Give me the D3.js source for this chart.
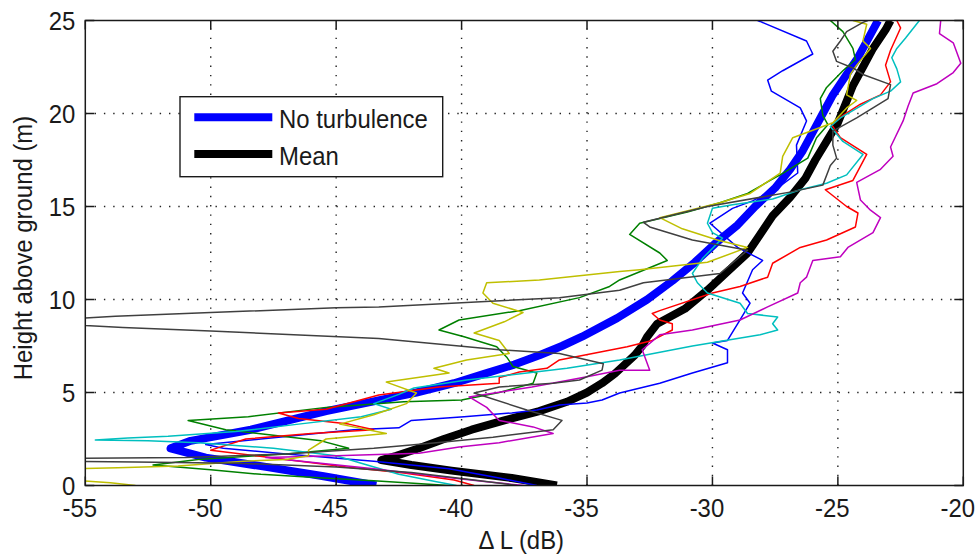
<!DOCTYPE html>
<html>
<head>
<meta charset="utf-8">
<script src="https://cdn.jsdelivr.net/npm/d3@7"></script>
<style>
  html, body { margin: 0; padding: 0; background: #fff; }
  svg { display: block; }
  text { font-family: "Liberation Sans", Arial, Helvetica, sans-serif; fill: #1a1a1a; }
</style>
</head>
<body>
<svg id="chart" width="976" height="554"></svg>
<script>
// Axis ticks
const xTicks = [-55, -50, -45, -40, -35, -30, -25, -20];
const yTicks = [0, 5, 10, 15, 20, 25];

// Reference profile without turbulence: height (m) and level difference (dB)
const noTurbHeight = [0, 0.5, 1.0, 1.5, 2.0, 2.4, 3.0, 3.5, 4.0, 4.5, 5.0, 5.5, 6.0, 6.5, 7.0, 7.5, 8.0, 9.0, 10, 11, 12, 13, 14, 15, 16, 17, 18, 19, 20, 21, 22, 23, 24, 25];
const noTurbDB = [-43.4, -45.5, -47.8, -50.2, -51.6, -50.8, -48.4, -46.9, -45.4, -43.6, -41.8, -40.3, -39.1, -37.9, -36.9, -36.0, -35.2, -33.8, -32.6, -31.6, -30.7, -29.9, -29.0, -28.3, -27.5, -26.9, -26.4, -26.0, -25.6, -25.2, -24.7, -24.2, -23.8, -23.4];

// Mean over the turbulent realisations
const meanHeight = [0, 0.4, 0.8, 1.1, 1.37, 1.6, 2.0, 2.5, 3.0, 3.5, 4.0, 4.5, 5.0, 5.5, 6.0, 6.5, 7.0, 7.5, 8.0, 8.7, 9.5, 10.5, 11.5, 12.5, 13.5, 14.5, 15.5, 16.5, 17.5, 18.5, 19.5, 20.5, 21.5, 22.5, 23.5, 24.5, 25];
const meanDB = [-36.2, -38.0, -40.4, -42.0, -43.2, -42.6, -41.7, -40.7, -39.6, -38.3, -36.9, -35.8, -35.0, -34.4, -33.9, -33.5, -33.1, -32.8, -32.6, -32.2, -31.1, -30.2, -29.4, -28.6, -28.1, -27.6, -26.9, -26.3, -25.9, -25.45, -25.0, -24.7, -24.4, -24.0, -23.6, -23.1, -22.9];

// Individual realisations, [dB, height] pairs
const runBlue = [[-37.0,0],[-38.5,0.4],[-40.5,0.9],[-43.5,1.3],[-47.0,1.7],[-49.5,2.0],[-50.2,2.2],[-48.0,2.5],[-44.3,3.0],[-42.5,3.1],[-42.0,3.5],[-39.9,3.7],[-38.0,3.9],[-37.0,4.06],[-36.1,4.33],[-35.0,4.43],[-34.4,4.6],[-33.7,4.97],[-32.1,5.5],[-30.8,6.05],[-29.4,6.6],[-29.4,7.3],[-30.0,7.66],[-29.4,7.8],[-28.9,8.9],[-28.5,9.8],[-28.8,10.35],[-28.4,11.6],[-28.0,12.1],[-29.0,12.8],[-30.1,14.1],[-29.2,14.9],[-28.4,15.3],[-27.4,16.0],[-26.6,16.8],[-26.65,18.3],[-26.25,19.6],[-26.5,20.3],[-27.65,21.2],[-27.8,21.8],[-27.2,22.3],[-26.0,23.2],[-26.25,23.9],[-28.1,24.95],[-28.2,25]];
const runGreen = [[-40.5,0],[-43.5,0.25],[-45.5,0.4],[-48.0,0.6],[-50.0,0.85],[-52.3,1.1],[-50.5,1.4],[-47.0,1.7],[-44.5,2.0],[-45.6,2.4],[-47.5,2.7],[-49.4,3.0],[-50.9,3.5],[-48.5,3.7],[-45.4,4.2],[-42.3,4.5],[-40.0,4.6],[-38.5,5.0],[-37.15,5.5],[-37.0,6.05],[-37.95,6.4],[-38.2,6.9],[-38.6,7.46],[-39.9,8.0],[-40.9,8.36],[-40.1,8.9],[-37.7,9.4],[-35.3,10.1],[-34.1,10.7],[-33.7,11.05],[-31.8,12.1],[-32.1,12.5],[-33.3,13.5],[-32.9,14.1],[-31.0,14.7],[-29.7,15.2],[-28.6,15.7],[-27.7,16.4],[-27.3,16.7],[-26.2,17.6],[-25.85,18.7],[-25.4,19.4],[-25.6,19.9],[-25.7,20.8],[-25.45,21.4],[-24.8,22.3],[-24.3,22.9],[-24.4,23.5],[-24.8,24.4],[-25.3,25]];
const runRed = [[-39.5,0],[-40.3,0.3],[-42.3,0.67],[-44.6,1.0],[-47.0,1.4],[-50.0,1.9],[-48.6,2.5],[-46.0,2.8],[-43.5,3.0],[-44.5,3.3],[-46.5,3.6],[-47.3,3.9],[-45.4,4.1],[-43.3,4.87],[-40.9,5.3],[-38.5,5.5],[-38.5,5.8],[-37.7,6.1],[-36.6,6.3],[-36.1,6.75],[-33.4,7.46],[-32.4,7.8],[-31.6,8.36],[-31.6,8.7],[-32.1,8.9],[-32.4,9.25],[-32.1,9.4],[-30.0,10.35],[-28.9,10.7],[-27.8,11.2],[-27.6,11.95],[-26.5,12.8],[-25.45,13.2],[-24.3,13.9],[-24.2,14.65],[-24.65,15.0],[-25.5,15.9],[-24.4,16.4],[-23.85,17.8],[-24.9,18.7],[-25.25,19.4],[-24.8,19.9],[-24.1,20.5],[-23.3,21.0],[-22.9,21.7],[-23.1,22.6],[-22.9,23.4],[-22.5,24.6],[-22.65,25]];
const runCyan = [[-40.2,0],[-41.0,0.2],[-42.5,0.6],[-44.0,1.2],[-45.0,1.6],[-47.5,2.0],[-50.5,2.3],[-52.5,2.4],[-54.6,2.45],[-53.3,2.55],[-51.7,2.65],[-49.0,2.9],[-46.5,3.3],[-44.0,3.7],[-42.8,4.1],[-43.5,4.4],[-42.5,4.9],[-41.9,5.24],[-39.8,5.67],[-35.8,6.3],[-33.7,6.75],[-30.8,7.5],[-28.1,8.1],[-27.4,8.36],[-27.6,8.7],[-27.4,9.06],[-28.6,9.25],[-28.9,9.8],[-30.2,10.35],[-30.6,10.9],[-30.8,11.4],[-30.4,12.2],[-29.6,13.3],[-30.0,13.6],[-30.2,14.1],[-30.0,14.9],[-29.2,15.1],[-27.6,15.4],[-26.5,15.9],[-25.45,16.25],[-24.65,16.7],[-24.0,17.8],[-24.8,18.5],[-25.3,19.3],[-24.9,19.76],[-24.1,20.4],[-23.6,20.8],[-22.9,21.2],[-22.5,21.7],[-22.65,22.4],[-22.85,23.0],[-22.65,23.5],[-22.3,24.06],[-21.75,25]];
const runMagenta = [[-37.5,0],[-39.0,0.2],[-41.0,0.5],[-43.5,0.9],[-46.0,1.25],[-47.8,1.5],[-45.0,1.6],[-41.7,1.74],[-40.1,2.07],[-38.5,2.3],[-36.35,2.8],[-37.15,3.15],[-38.5,3.5],[-39.0,4.2],[-39.7,4.76],[-37.2,5.3],[-35.0,5.85],[-33.7,6.2],[-32.5,6.2],[-32.8,7.3],[-32.1,8.1],[-30.8,8.36],[-28.9,8.9],[-27.8,9.6],[-26.6,10.35],[-26.5,10.9],[-26.25,11.2],[-26.0,12.1],[-24.9,12.3],[-24.6,12.8],[-23.6,13.6],[-23.3,14.4],[-23.7,14.8],[-24.1,15.35],[-24.25,16.3],[-23.3,17.0],[-22.8,17.7],[-22.9,18.2],[-22.4,19.6],[-22.2,20.4],[-22.0,21.1],[-21.05,21.6],[-20.4,22.2],[-20.1,22.7],[-20.4,23.8],[-20.95,24.3],[-20.9,25]];
const runYellow = [[-53.0,0],[-54.0,0.15],[-55.6,0.3],[-55.6,0.9],[-53.7,0.95],[-51.3,1.05],[-48.7,1.3],[-47.0,1.4],[-46.1,1.6],[-46.1,1.9],[-45.4,2.5],[-43.0,2.8],[-44.85,3.3],[-43.5,3.8],[-42.2,4.4],[-41.8,4.97],[-43.0,5.56],[-40.5,6.05],[-41.1,6.3],[-39.8,6.75],[-38.1,7.1],[-38.5,7.8],[-39.5,8.2],[-38.3,8.8],[-37.55,9.3],[-38.75,9.8],[-39.15,10.35],[-39.0,10.9],[-36.9,11.05],[-33.7,11.5],[-32.9,11.6],[-30.2,12.0],[-28.6,12.8],[-29.8,13.2],[-31.2,13.8],[-32.1,14.4],[-29.7,15.2],[-28.5,15.7],[-27.3,16.8],[-27.2,17.7],[-26.8,18.7],[-25.2,19.5],[-24.65,20.3],[-24.25,20.7],[-24.65,21.0],[-24.5,22.1],[-24.25,22.6],[-23.7,23.5],[-24.0,23.9],[-23.85,24.8],[-24.4,25]];
const runGray = [[-37.8,0],[-39.5,0.3],[-42.0,0.7],[-45.0,1.0],[-49.0,1.2],[-53.0,1.27],[-56.0,1.3],[-56.0,1.45],[-51.0,1.5],[-47.0,1.7],[-43.5,2.0],[-41.0,2.3],[-38.75,2.6],[-36.35,3.0],[-36.0,3.5],[-37.4,4.06],[-39.5,4.97],[-38.5,5.3],[-36.35,5.5],[-35.3,5.67],[-34.4,6.2],[-34.35,6.55],[-36.1,7.1],[-38.5,7.3],[-43.3,7.9],[-50.0,8.3],[-53.5,8.5],[-55.0,8.6],[-57.0,8.8],[-55.0,9.0],[-53.8,9.1],[-50.0,9.3],[-45.0,9.55],[-43.3,9.6],[-36.1,10.1],[-33.7,10.5],[-32.75,10.9],[-29.7,11.4],[-28.6,12.65],[-30.8,13.2],[-32.5,13.9],[-32.75,14.15],[-30.2,15.0],[-26.8,15.8],[-25.6,16.15],[-25.3,17.2],[-25.05,17.6],[-25.2,18.3],[-25.2,19.05],[-24.25,19.76],[-23.6,20.3],[-23.0,20.8],[-22.9,21.55],[-24.0,22.1],[-24.4,22.45],[-25.05,22.8],[-25.2,23.35],[-24.9,23.9],[-24.65,24.4],[-24.0,24.9],[-23.8,25]];

const runs = [
  { data: runBlue, color: "#0000ff" },
  { data: runGreen, color: "#008000" },
  { data: runRed, color: "#ff0000" },
  { data: runCyan, color: "#00bfbf" },
  { data: runMagenta, color: "#bf00bf" },
  { data: runYellow, color: "#bfbf00" },
  { data: runGray, color: "#404040" }
];

const legendLabels = ["No turbulence", "Mean"];

// Layout
const plot = { left: 85.3, right: 963.3, top: 20.5, bottom: 485.5 };
const svg = d3.select("#chart");

const x = d3.scaleLinear().domain([-55, -20]).range([plot.left, plot.right]);
const y = d3.scaleLinear().domain([0, 25]).range([plot.bottom, plot.top]);

// Slightly condensed label text, placed at (tx, ty)
const FONT = 26, SQUEEZE = 0.92;
function label(sel, tx, ty, anchor, extra) {
  return sel.append("text")
    .attr("transform", `translate(${tx},${ty}) ${extra || ""} scale(${SQUEEZE},1)`)
    .attr("text-anchor", anchor)
    .attr("font-size", FONT);
}

svg.append("defs").append("clipPath").attr("id", "plotClip")
  .append("rect")
  .attr("x", plot.left).attr("y", plot.top)
  .attr("width", plot.right - plot.left).attr("height", plot.bottom - plot.top);

// Dotted grid
const grid = svg.append("g").attr("stroke", "#222").attr("stroke-width", 1.4)
  .attr("stroke-dasharray", "1.4,7.9").attr("fill", "none");
grid.selectAll("line.gx").data(xTicks.slice(1, -1)).join("line")
  .attr("x1", d => x(d)).attr("x2", d => x(d))
  .attr("y1", plot.bottom).attr("y2", plot.top);
grid.selectAll("line.gy").data(yTicks.slice(1, -1)).join("line")
  .attr("y1", d => y(d)).attr("y2", d => y(d))
  .attr("x1", plot.left).attr("x2", plot.right);

const lines = svg.append("g").attr("clip-path", "url(#plotClip)");

const lineGen = d3.line().x(d => x(d[0])).y(d => y(d[1]));

// Thick profiles first
lines.append("path")
  .datum(noTurbDB.map((v, i) => [v, noTurbHeight[i]]))
  .attr("d", lineGen).attr("fill", "none").attr("stroke", "#0000ff")
  .attr("stroke-width", 8).attr("stroke-linejoin", "round");
lines.append("path")
  .datum(meanDB.map((v, i) => [v, meanHeight[i]]))
  .attr("d", lineGen).attr("fill", "none").attr("stroke", "#000")
  .attr("stroke-width", 8).attr("stroke-linejoin", "round");

// Individual realisations
lines.selectAll("path.run").data(runs).join("path")
  .attr("class", "run")
  .attr("d", d => lineGen(d.data))
  .attr("fill", "none").attr("stroke", d => d.color)
  .attr("stroke-width", 1.5).attr("stroke-linejoin", "round");

// Axes box with inward ticks on all sides
const tickLen = 9;
const axes = svg.append("g").attr("stroke", "#1a1a1a").attr("stroke-width", 1.5).attr("fill", "none");
axes.append("rect")
  .attr("x", plot.left).attr("y", plot.top)
  .attr("width", plot.right - plot.left).attr("height", plot.bottom - plot.top);
xTicks.forEach(t => {
  axes.append("line").attr("x1", x(t)).attr("x2", x(t)).attr("y1", plot.bottom).attr("y2", plot.bottom - tickLen);
  axes.append("line").attr("x1", x(t)).attr("x2", x(t)).attr("y1", plot.top).attr("y2", plot.top + tickLen);
});
yTicks.forEach(t => {
  axes.append("line").attr("y1", y(t)).attr("y2", y(t)).attr("x1", plot.left).attr("x2", plot.left + tickLen);
  axes.append("line").attr("y1", y(t)).attr("y2", y(t)).attr("x1", plot.right).attr("x2", plot.right - tickLen);
});

// Tick labels
const tickG = svg.append("g");
xTicks.forEach(t => label(tickG, x(t) - 5.5, 516.5, "middle").text(t));
yTicks.forEach(t => label(tickG, plot.left - 10, y(t) + 9.2, "end").text(t));

// Axis titles
label(svg, (plot.left + plot.right) / 2 - 3, 549, "middle").text("\u0394 L (dB)");
label(svg, 31.5, 248, "middle", "rotate(-90)").text("Height above ground (m)");

// Legend
const legend = svg.append("g");
legend.append("rect")
  .attr("x", 180).attr("y", 96.7).attr("width", 262.7).attr("height", 80)
  .attr("fill", "#fff").attr("stroke", "#1a1a1a").attr("stroke-width", 1.4);
const legendColors = ["#0000ff", "#000"];
legendLabels.forEach((lbl, i) => {
  const ly = 117.3 + i * 36.7;
  legend.append("line").attr("x1", 194.3).attr("x2", 272.3).attr("y1", ly).attr("y2", ly)
    .attr("stroke", legendColors[i]).attr("stroke-width", 8);
  label(legend, 279, ly + 10.8, "start").text(lbl);
});
</script>
</body>
</html>
